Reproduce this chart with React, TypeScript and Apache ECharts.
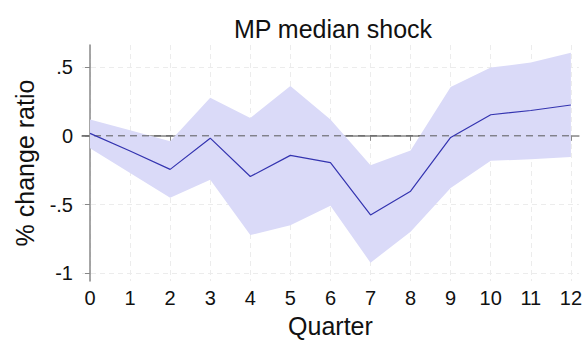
import React, { useEffect, useRef } from "react";
import * as echarts from "echarts";

const quarters = [0, 1, 2, 3, 4, 5, 6, 7, 8, 9, 10, 11, 12];
const median = [0.018, -0.11, -0.244, -0.017, -0.296, -0.142, -0.195, -0.575, -0.402, -0.012, 0.153, 0.184, 0.224];
const upper = [0.118, 0.04, -0.04, 0.277, 0.13, 0.362, 0.118, -0.213, -0.106, 0.355, 0.496, 0.532, 0.603];
const lower = [-0.09, -0.27, -0.45, -0.319, -0.721, -0.65, -0.508, -0.922, -0.698, -0.379, -0.182, -0.17, -0.154];
const zeroLine = [-0.2, 12];
const yTicks = [-1, -0.5, 0, 0.5];
const yTickLabels = ["-1", "-.5", "0", ".5"];

const FONT = "Liberation Sans, Arial, sans-serif";

export default function App() {
  const ref = useRef<HTMLDivElement>(null);
  useEffect(() => {
    if (!ref.current) return;
    const chart = echarts.init(ref.current, undefined, { renderer: "svg" });
    const xMin = -0.2;
    const xMax = 12.2;
    const gridLine = { show: true, lineStyle: { color: "#ececec", type: [5, 4], width: 1 } };
    chart.setOption({
      animation: false,
      backgroundColor: "#ffffff",
      title: {
        text: "MP median shock",
        left: 328,
        top: 11,
        textAlign: "center",
        textStyle: { fontFamily: FONT, fontSize: 25, fontWeight: "normal", color: "#111" },
      },
      grid: { left: 82, right: 4, top: 45, bottom: 56 },
      xAxis: {
        type: "value",
        min: xMin,
        max: xMax,
        name: "Quarter",
        nameLocation: "middle",
        nameGap: 32,
        nameTextStyle: { fontFamily: FONT, fontSize: 25, color: "#111" },
        axisLine: { show: true, lineStyle: { color: "#888", width: 1.5 } },
        axisTick: { show: true, length: 5, lineStyle: { color: "#888" }, customValues: quarters },
        axisLabel: {
          customValues: quarters,
          fontFamily: FONT,
          fontSize: 20,
          color: "#111",
          margin: 7,
        },
        splitLine: gridLine,
      },
      yAxis: {
        type: "value",
        min: -1.055,
        max: 0.66,
        name: "% change ratio",
        nameLocation: "middle",
        nameGap: 45,
        nameTextStyle: { fontFamily: FONT, fontSize: 25, color: "#111" },
        axisLine: { show: true, lineStyle: { color: "#888", width: 1.5 } },
        axisTick: { show: true, length: 5, lineStyle: { color: "#888" }, customValues: yTicks },
        axisLabel: {
          customValues: yTicks,
          fontFamily: FONT,
          fontSize: 20,
          color: "#111",
          margin: 9,
          formatter: (v: number) => {
            const i = yTicks.findIndex((t) => Math.abs(t - v) < 1e-6);
            return i >= 0 ? yTickLabels[i] : "";
          },
        },
        splitLine: gridLine,
      },
      series: [
        {
          type: "custom",
          silent: true,
          data: quarters.map((q, i) => [q, lower[i], upper[i]]),
          encode: { x: 0, y: [1, 2] },
          renderItem: (params: any, api: any) => {
            if (params.dataIndex !== 0) return null;
            const top = quarters.map((q, i) => api.coord([q, upper[i]]));
            const bot = quarters.map((q, i) => api.coord([q, lower[i]])).reverse();
            const z0 = api.coord([zeroLine[0], 0]);
            const z1 = api.coord([zeroLine[1], 0]);
            return {
              type: "group",
              children: [
                {
                  type: "polygon",
                  z2: 1,
                  shape: { points: top.concat(bot) },
                  style: { fill: "#dadaf8" },
                },
                {
                  type: "line",
                  z2: 10,
                  shape: { x1: z0[0], y1: z0[1], x2: z1[0], y2: z1[1] },
                  style: { stroke: "#5a5a5a", lineWidth: 1, lineDash: [7, 5], fill: null },
                },
              ],
            };
          },
          z: 1,
        },
        {
          type: "line",
          data: quarters.map((q, i) => [q, median[i]]),
          symbol: "none",
          lineStyle: { color: "#3434b0", width: 1.2 },
          z: 7,
        },
      ],
    });
    return () => chart.dispose();
  }, []);
  return <div ref={ref} style={{ position: "absolute", left: 0, top: 0, width: 585, height: 343 }} />;
}
